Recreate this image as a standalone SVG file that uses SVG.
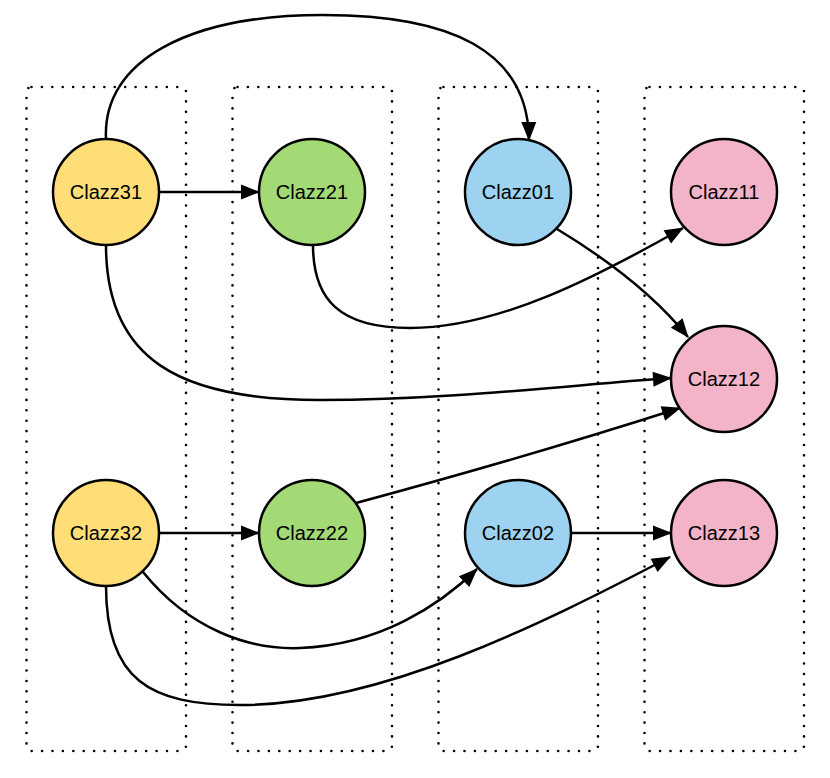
<svg xmlns="http://www.w3.org/2000/svg" width="830" height="778" viewBox="0 0 830 778">
<style>
.lane{fill:none;stroke:#000;stroke-width:2.6;stroke-linecap:round;stroke-dasharray:0.01 10.4}
.node circle{stroke:#000;stroke-width:2.5}
.node text{font-family:"Liberation Sans",Arial,sans-serif;font-size:20px;text-anchor:middle;fill:#000}
.y{fill:#ffde78}.g{fill:#a4da76}.b{fill:#9dd2f1}.p{fill:#f3b4c8}
#edges path{fill:none;stroke:#000;stroke-width:2.5;marker-end:url(#arr)}
</style>
<defs>
<marker id="arr" markerUnits="userSpaceOnUse" markerWidth="20" markerHeight="16" viewBox="0 0 19 16" refX="18" refY="8" orient="auto">
<path d="M0,0.5 L19,8 L0,15.5 z" fill="#000"/>
</marker>
</defs>
<rect width="830" height="778" fill="#fff"/>
<g id="lanes">
<rect class="lane" x="26.5" y="87" width="159.5" height="664" rx="5"/>
<rect class="lane" x="232.5" y="87" width="159.5" height="664" rx="5"/>
<rect class="lane" x="438.5" y="87" width="159.5" height="664" rx="5"/>
<rect class="lane" x="644.5" y="87" width="159.5" height="664" rx="5"/>
</g>
<g id="edges">
<path d="M106,139 C102,60 190,15 323,15 C450,15 528,50 529,140"/>
<path d="M159,192 L259,192"/>
<path d="M313,245 C313,300 340,328 410,328 C500,328 600,275 683,228"/>
<path d="M557,229 C600,255 650,290 688,337"/>
<path d="M106,245 C106,360 180,400 320,400 C450,400 570,385 671,378"/>
<path d="M356,503 C460,475 580,440 680,408"/>
<path d="M159,533 L259,533"/>
<path d="M571,533 L671,533"/>
<path d="M143,572 C190,630 250,650 300,648 C380,645 440,605 477,569"/>
<path d="M106,586 C106,680 150,705 240,705 C380,705 540,625 670,557"/>
</g>
<g id="Clazz31" class="node"><circle class="y" cx="106" cy="192" r="53"/><text x="106" y="199">Clazz31</text></g>
<g id="Clazz21" class="node"><circle class="g" cx="312" cy="192" r="53"/><text x="312" y="199">Clazz21</text></g>
<g id="Clazz01" class="node"><circle class="b" cx="518" cy="192" r="53"/><text x="518" y="199">Clazz01</text></g>
<g id="Clazz11" class="node"><circle class="p" cx="724" cy="192" r="53"/><text x="724" y="199">Clazz11</text></g>
<g id="Clazz12" class="node"><circle class="p" cx="724" cy="379" r="53"/><text x="724" y="386">Clazz12</text></g>
<g id="Clazz32" class="node"><circle class="y" cx="106" cy="533" r="53"/><text x="106" y="540">Clazz32</text></g>
<g id="Clazz22" class="node"><circle class="g" cx="312" cy="533" r="53"/><text x="312" y="540">Clazz22</text></g>
<g id="Clazz02" class="node"><circle class="b" cx="518" cy="533" r="53"/><text x="518" y="540">Clazz02</text></g>
<g id="Clazz13" class="node"><circle class="p" cx="724" cy="533" r="53"/><text x="724" y="540">Clazz13</text></g>
</svg>
